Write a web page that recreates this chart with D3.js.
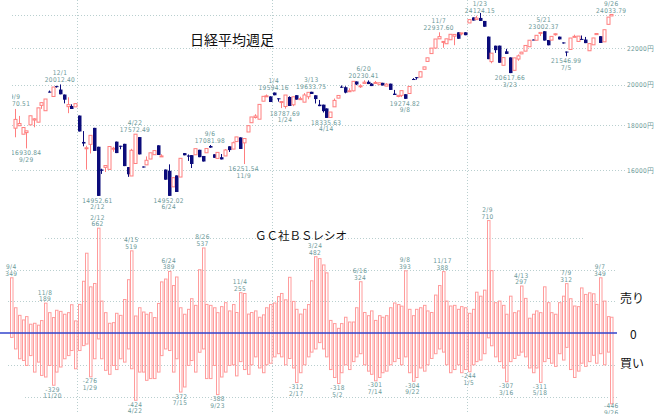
<!DOCTYPE html>
<html>
<head>
<meta charset="utf-8">
<script src="https://cdn.jsdelivr.net/npm/d3@7"></script>
<style>
  body { margin: 0; background: #fff; }
  .lbl { font-family: "Liberation Sans Narrow", "DejaVu Sans Condensed", sans-serif; font-size: 6.5px; letter-spacing: 0.3px; fill: #6a9898; }
  .jp { font-family: "Noto Sans CJK JP", sans-serif; fill: #111; }
</style>
</head>
<body>
<div id="chart"></div>
<script>
const width = 669;
const height = 414;

// Nikkei weekly (built from daily closes), week 0 = 2015/9/11 ... week 159 = 2018/9/28
const opens = [17850,17965,17571,17645,18005,18234,18131,18947,18683,19642,19393,19924,19747,19492,18883,18916,18873,
  18450,17218,16955,17110,17865,17004,16022,16111,16026,16911,17233,17048,17134,16123,15751,16275,17439,16147,16216,16466,16654,17068,16580,16019,15965,15309,15775,15708,16723,16620,16635,16650,16869,16598,16737,17037,16672,16492,16544,16598,17024,16900,17234,17425,17177,17672,18106,18356,18274,19155,19391,19396,
  19594,19301,19095,18891,19368,18976,19459,19251,19107,19379,19633,19455,18985,18983,18797,18355,18875,19310,19895,19869,19678,19682,20170,19908,20067,20153,20055,20080,20000,20099,19925,20055,19537,19393,19449,19508,19545,20299,20397,20400,20823,21255,21696,22011,22548,22380,22261,22495,22707,22938,22901,22939,
  23506,23849,23714,23816,23629,22682,21244,22149,22153,21042,21824,21480,20766,21388,21678,21835,22088,22508,22467,22865,23002,22481,22475,22804,22680,22338,21811,21932,22640,22396,22544,22507,21857,22199,22799,22707,22373,23420,23940];
const highs = [18770,18432,17880,17725,18438,18322,18825,19083,19265,19697,19879,19944,20012,19492,19353,19000,19033,
  18450,17715,17048,17518,17865,17004,16054,16188,17014,17000,17233,17048,17134,16123,16911,17572,17439,16147,16579,16736,16834,17068,16675,16019,16238,15682,15775,16497,16723,16664,16635,16919,16869,16598,16925,17081,16672,16754,16683,16899,17024,17235,17446,17425,17374,17967,18381,18513,18996,19401,19494,19403,
  19594,19301,19137,19467,19402,19378,19459,19381,19564,19604,19633,19455,19217,18983,18797,18620,19289,19445,19961,19919,19813,20177,20170,20020,20230,20225,20081,20195,20100,20099,20080,20055,19729,19452,19691,19508,19909,20347,20397,20690,20954,21457,22008,22539,22937,22396,22550,22819,22811,22938,22902,22939,
  23714,23849,23952,24124,23629,22682,21720,22149,22153,21469,21968,21480,21454,21645,21794,22162,22467,22508,22758,22930,23002,22481,22694,22878,22680,22338,21811,22597,22794,22712,22746,22662,22270,22601,22869,22707,23094,23869,24033];
const lows = [17430,17965,17571,16930,18005,17891,18131,18777,18683,19596,19393,19847,19504,19046,18565,18769,18873,
  17697,17024,16017,16708,16819,14952,15837,15916,16026,16783,16724,16892,16164,15715,15751,16275,16666,16106,16216,16466,16654,16642,16580,15599,14952,15309,15106,15708,16627,16383,16083,16650,16545,16360,16737,16958,16519,16492,16449,16598,16774,16900,17234,16905,16251,17672,18106,18307,18274,19155,19391,19114,
  19454,19134,18813,18787,18918,18907,19234,19251,19107,19254,19521,19041,18909,18597,18335,18355,18875,19310,19843,19553,19678,19650,19979,19831,20067,20033,19929,20080,19999,19959,19925,19729,19470,19353,19362,19274,19545,20296,20267,20400,20823,21255,21696,22011,22548,22028,22261,22486,22177,22553,22757,22764,
  23506,23653,23714,23631,23274,21382,21154,21736,21181,21042,21676,20617,20766,21292,21678,21835,22088,22472,22467,22717,22450,22171,22475,22738,22516,22270,21546,21932,22640,22396,22507,22298,21851,22199,22799,22307,22373,23420,23940];
const closes = [18264,18070,17880,17725,18438,18291,18825,19083,19265,19596,19879,19883,19504,19230,18986,18769,19033,
  17697,17147,16958,17518,16819,14952,15967,16188,17014,16938,16724,17002,16164,15821,16848,17572,16666,16106,16412,16736,16834,16642,16601,15599,14952,15682,15106,16497,16627,16569,16254,16919,16545,16360,16925,16965,16519,16754,16449,16860,16856,17184,17446,16905,17374,17967,18381,18426,18996,19401,19427,19114,
  19454,19287,19137,19467,18918,19378,19234,19283,19469,19604,19521,19262,18909,18664,18335,18620,19196,19445,19883,19590,19686,20177,20013,19943,20132,20033,19929,20118,20099,19959,20029,19729,19470,19452,19691,19274,19909,20296,20356,20690,20954,21457,22008,22539,22681,22396,22550,22819,22811,22553,22902,22764,
  23714,23653,23808,23631,23274,21382,21720,21892,21181,21469,21676,20617,21454,21567,21778,22162,22467,22472,22758,22930,22450,22171,22694,22851,22516,22304,21788,22597,22697,22712,22525,22298,22270,22601,22865,22307,23094,23869,24033];

// GC BS ratio, one bar per week, week -1 (2015/9/4) ... 159
const bsSell = [349,160,112,83,104,56,62,50,79,189,129,98,144,137,119,129,179,77,181,327,504,292,313,662,202,129,62,66,125,112,212,337,519,108,160,133,119,129,98,187,323,341,389,300,354,160,119,150,217,175,400,537,181,175,160,129,167,192,140,
  180,130,255,250,120,130,140,100,115,160,180,190,230,250,210,352,200,150,120,150,180,330,482,470,430,380,80,60,30,60,100,70,70,160,324,130,110,140,80,110,100,110,160,190,180,170,393,150,110,150,160,175,140,130,240,300,388,202,
  171,175,150,167,160,125,150,258,233,271,710,394,192,202,175,119,233,129,140,297,219,94,119,140,129,292,192,129,119,192,233,312,217,171,167,285,244,254,248,181,349,202,104,100];
const bsBuy = [-27,-100,-162,-173,-204,-142,-246,-183,-267,-277,-204,-329,-246,-214,-162,-142,-110,-225,-110,-79,-69,-276,-162,-37,-162,-235,-260,-204,-230,-162,-183,-100,-225,-424,-246,-246,-298,-287,-287,-246,-142,-100,-110,-246,-162,-372,-340,-204,-173,-246,-121,-100,-287,-287,-204,-388,-277,-246,-204,
  -200,-270,-180,-230,-260,-200,-150,-220,-250,-200,-190,-150,-130,-150,-200,-160,-220,-312,-250,-200,-150,-120,-100,-60,-100,-150,-230,-280,-318,-250,-200,-230,-180,-150,-130,-200,-240,-260,-301,-280,-250,-240,-200,-180,-160,-200,-150,-250,-304,-280,-220,-240,-200,-160,-130,-100,-120,-200,
  -250,-230,-200,-250,-230,-244,-200,-180,-170,-130,-30,-80,-150,-180,-220,-307,-180,-160,-140,-120,-150,-220,-250,-220,-311,-180,-160,-190,-210,-130,-170,-90,-230,-280,-240,-190,-210,-180,-140,-190,-130,-200,-120,-446];

// first week of each year (2016, 2017, 2018)
const yearStartIdx = [17, 69, 121];

// price annotations
const hiIdx = [0, 12, 32, 52, 69, 79, 93, 113, 124, 141, 159];
const hiDate = ["9/9", "12/1", "4/22", "9/6", "1/4", "3/13", "6/20", "11/7", "1/23", "5/21", "9/26"];
const hiText = ["18770.51", "20012.40", "17572.49", "17081.98", "19594.16", "19633.75", "20230.41", "22937.60", "24124.15", "23002.37", "24033.79"];
const loIdx = [3, 22, 41, 61, 72, 83, 104, 132, 147];
const loDate = ["9/29", "2/12", "6/24", "11/9", "1/24", "4/14", "9/8", "3/23", "7/5"];
const loText = ["16930.84", "14952.61", "14952.02", "16251.54", "18787.69", "18335.63", "19274.82", "20617.66", "21546.99"];

// BS ratio annotations
const bsHiIdx = [-1, 8, 22, 31, 41, 50, 60, 80, 92, 104, 114, 126, 135, 147, 156];
const bsHiDate = ["9/4", "11/8", "2/12", "4/15", "6/24", "8/26", "11/4", "3/24", "6/16", "9/8", "11/17", "2/9", "4/13", "7/9", "9/7"];
const bsLoIdx = [10, 20, 32, 44, 54, 75, 86, 96, 106, 121, 131, 140, 159];
const bsLoDate = ["11/20", "1/29", "4/22", "7/15", "9/23", "2/17", "5/2", "7/14", "9/22", "1/5", "3/16", "5/18", "9/26"];

const priceTicks = [16000, 18000, 20000, 22000, 24000];
const bsTicks = [-400, -200, 200, 400, 600];

const x = d3.scaleLinear().domain([0, 159]).range([15, 611.25]);
const yP = d3.scaleLog().domain([16000, 24000]).range([170, 15]);
const yB = d3.scaleLinear().domain([-400, 600]).range([396.5, 238]);

const svg = d3.select("#chart").append("svg")
    .attr("width", width)
    .attr("height", height);

const defs = svg.append("defs");
defs.append("clipPath").attr("id", "clipTop")
    .append("rect").attr("x", 12).attr("y", 0).attr("width", 640).attr("height", 220);

// grid
const grid = svg.append("g")
    .attr("stroke", "#b9cfcf")
    .attr("stroke-dasharray", "1,2")
    .attr("stroke-width", 1);

grid.selectAll(".hp")
    .data(priceTicks)
    .join("line")
    .attr("x1", 12).attr("x2", 626)
    .attr("y1", d => Math.round(yP(d)) + 0.5)
    .attr("y2", d => Math.round(yP(d)) + 0.5);

grid.selectAll(".hb")
    .data(bsTicks)
    .join("line")
    .attr("x1", d => d === 600 ? 45 : (d === -400 ? 25 : 8))
    .attr("x2", d => d === 600 ? 585 : 617)
    .attr("y1", d => Math.round(yB(d)) + 0.5)
    .attr("y2", d => Math.round(yB(d)) + 0.5);

grid.selectAll(".vy")
    .data(yearStartIdx)
    .join("line")
    .attr("x1", d => Math.round(x(d) - 1.875) + 0.5)
    .attr("x2", d => Math.round(x(d) - 1.875) + 0.5)
    .attr("y1", 0).attr("y2", height);

// price axis labels
const yAxis = d3.axisRight(yP).tickValues(priceTicks.slice(0, 4)).tickSize(0).tickFormat(d => d + "円");
svg.append("g")
    .attr("transform", "translate(625,0)")
    .call(yAxis)
    .call(g => g.select(".domain").remove())
    .call(g => g.selectAll("text").attr("class", "lbl").attr("x", 2).attr("font-size", null).attr("font-family", null));

// titles
svg.append("text").attr("class", "jp").attr("x", 190).attr("y", 45)
    .attr("font-size", "14px").text("日経平均週足");
svg.append("text").attr("class", "jp").attr("x", 255).attr("y", 240)
    .attr("font-size", "11.5px").text("ＧＣ社ＢＳレシオ");

// candles
const weeks = d3.range(closes.length);
const up = "#ff7f7f", down = "#0b0b7a";
const candles = svg.append("g");

candles.selectAll(".wick")
    .data(weeks)
    .join("line")
    .attr("x1", i => Math.round(x(i)) + 0.5)
    .attr("x2", i => Math.round(x(i)) + 0.5)
    .attr("y1", i => yP(highs[i]))
    .attr("y2", i => yP(lows[i]))
    .attr("stroke", i => closes[i] >= opens[i] ? up : down)
    .attr("stroke-width", 1);

candles.selectAll(".body")
    .data(weeks)
    .join("rect")
    .attr("x", i => Math.round(x(i)) - 1)
    .attr("y", i => yP(Math.max(opens[i], closes[i])))
    .attr("width", i => closes[i] >= opens[i] ? 3 : 3.5)
    .attr("height", i => Math.max(1, yP(Math.min(opens[i], closes[i])) - yP(Math.max(opens[i], closes[i]))))
    .attr("fill", i => closes[i] >= opens[i] ? "#fff" : down)
    .attr("stroke", i => closes[i] >= opens[i] ? up : "none")
    .attr("stroke-width", 1);

// price annotations
const ann = svg.append("g").attr("clip-path", "url(#clipTop)");
hiIdx.forEach((i, k) => {
    const yy = yP(highs[i]);
    ann.append("text").attr("class", "lbl").attr("text-anchor", "middle")
        .attr("x", x(i)).attr("y", Math.max(yy - 9.5, 6)).text(hiDate[k]);
    ann.append("text").attr("class", "lbl").attr("text-anchor", "middle")
        .attr("x", x(i)).attr("y", Math.max(yy - 2.5, 12.5)).text(hiText[k]);
});
loIdx.forEach((i, k) => {
    const yy = yP(lows[i]);
    ann.append("text").attr("class", "lbl").attr("text-anchor", "middle")
        .attr("x", x(i)).attr("y", yy + 7).text(loText[k]);
    ann.append("text").attr("class", "lbl").attr("text-anchor", "middle")
        .attr("x", x(i)).attr("y", yy + 13.5).text(loDate[k]);
});

// BS ratio bars (week index -1 .. 159)
const bsWeeks = d3.range(-1, bsSell.length - 1);
svg.append("g")
    .selectAll("rect")
    .data(bsWeeks)
    .join("rect")
    .attr("x", i => Math.round(x(i)) - 1 + 0.5)
    .attr("y", i => yB(bsSell[i + 1]))
    .attr("width", 2.5)
    .attr("height", i => yB(bsBuy[i + 1]) - yB(bsSell[i + 1]))
    .attr("fill", "none")
    .attr("stroke", "#ff9c9c")
    .attr("stroke-width", 1);

// zero line
svg.append("line")
    .attr("x1", 0).attr("x2", 617)
    .attr("y1", yB(0)).attr("y2", yB(0))
    .attr("stroke", "#3344cc")
    .attr("stroke-width", 1.5);

// BS annotations
bsHiIdx.forEach((i, k) => {
    const yy = yB(bsSell[i + 1]);
    svg.append("text").attr("class", "lbl").attr("text-anchor", "middle")
        .attr("x", x(i)).attr("y", yy - 8.5).text(bsHiDate[k]);
    svg.append("text").attr("class", "lbl").attr("text-anchor", "middle")
        .attr("x", x(i)).attr("y", yy - 2).text(bsSell[i + 1]);
});
bsLoIdx.forEach((i, k) => {
    const yy = yB(bsBuy[i + 1]);
    svg.append("text").attr("class", "lbl").attr("text-anchor", "middle")
        .attr("x", x(i)).attr("y", Math.min(yy + 6.5, 408)).text(bsBuy[i + 1]);
    svg.append("text").attr("class", "lbl").attr("text-anchor", "middle")
        .attr("x", x(i)).attr("y", Math.min(yy + 13, 414.5)).text(bsLoDate[k]);
});

// right side labels
svg.append("text").attr("class", "jp").attr("x", 620).attr("y", 303).attr("font-size", "12px").text("売り");
svg.append("text").attr("class", "jp").attr("x", 630).attr("y", 338.5).attr("font-size", "12px").text("0");
svg.append("text").attr("class", "jp").attr("x", 620).attr("y", 368).attr("font-size", "12px").text("買い");
</script>
</body>
</html>
